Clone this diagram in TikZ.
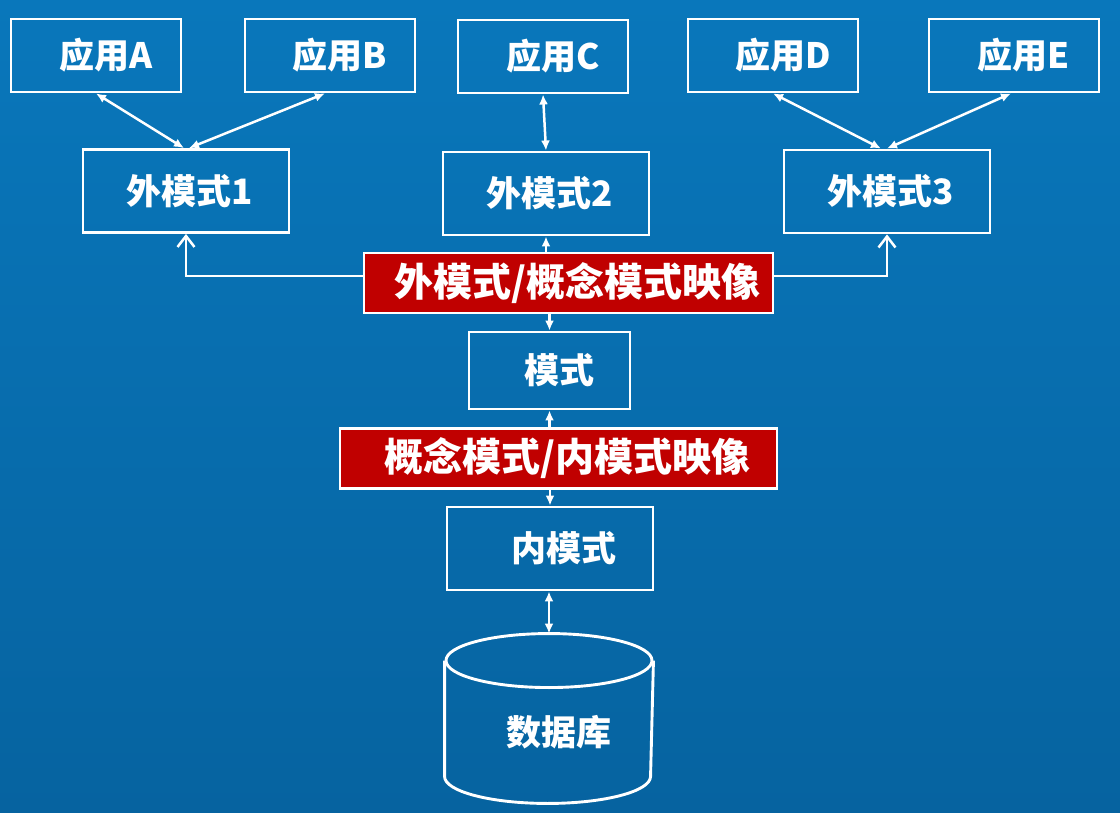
\documentclass[tikz,border=0pt]{standalone}
\usepackage{fontspec}
\setmainfont{Noto Sans CJK SC}
\usepackage{tikz}
\usetikzlibrary{arrows.meta,positioning}
\definecolor{bgtop}{RGB}{9,119,187}
\definecolor{bgbottom}{RGB}{6,99,160}
\definecolor{mapred}{RGB}{192,0,0}

\begin{document}
\begin{tikzpicture}[
    x=1pt, y=1pt,
    on grid,
    >={Latex[length=10pt,width=9pt]},
    box/.style={
		rectangle,
		draw=white,
		line width=2.9pt,
		text=white,
		inner sep=0pt,
		font=\fontsize{35}{38}\selectfont\bfseries
	},
	pad/.style={
		execute at begin node={\hspace*{#1}}
	},
	app/.style={box, minimum width=170pt, minimum height=73pt, pad=20pt},
	ext/.style={box, minimum width=206pt, minimum height=83pt, pad=8pt},
	conc/.style={box, minimum width=161pt, minimum height=77pt, pad=20pt},
	mapping/.style={
		box,
		fill=mapred,
		line width=2.5pt,
		minimum height=60pt,
		pad=18pt,
		font=\fontsize{39}{42}\selectfont\bfseries
	},
	link/.style={draw=white, line width=2.5pt, <->},
	single/.style={draw=white, line width=2.2pt, ->},
	feed/.style={draw=white, line width=2.5pt, -{Straight Barb[length=11pt,width=17pt]}}
  ]
  \fill [top color=bgtop, bottom color=bgbottom] (0,0) rectangle (1120,-813);
  \useasboundingbox (0,0) rectangle (1120,-813);

    % We start by placing the blocks
  \node [mapping, minimum width=409pt] (mapA) at (568.5,-283) {外模式/概念模式映像};

  \node [ext, above=89.5pt of mapA, xshift=-22.5pt] (ext2) {外模式2};
  \node [ext, left=360pt of ext2, yshift=2.5pt] (ext1) {外模式1};
  \node [ext, right=341pt of ext2, yshift=2pt] (ext3) {外模式3};

  \node [app, above=135.5pt of ext1, xshift=-90pt] (appA) {应用A};
  \node [app, above=135.5pt of ext1, xshift=144pt] (appB) {应用B};
  \node [app, above=137pt of ext2, xshift=-3pt] (appC) {应用C};
  \node [app, above=136pt of ext3, xshift=-114pt] (appD) {应用D};
  \node [app, above=136pt of ext3, xshift=127pt] (appE) {应用E};

  \node [conc, below=87.5pt of mapA, xshift=-19pt] (concept) {模式};
  \node [mapping, minimum width=437pt, below=88pt of concept, xshift=9pt] (mapB) {概念模式/内模式映像};
  \node [ext, pad=20pt, below=90pt of mapB, xshift=-8.5pt] (internal) {内模式};

  % the database cylinder
  \node [box, draw=none, minimum width=206pt, minimum height=140pt, pad=20pt, below=183.5pt of internal, xshift=-1pt] (db) {数据库};
  \draw [white, line width=2.9pt] (db.north) ellipse [x radius=103pt, y radius=27pt];
  \draw [white, line width=2.9pt] (db.north west) -- ([yshift=27pt]db.south west)
    arc [start angle=180, end angle=360, x radius=103pt, y radius=27pt] -- (db.north east);
  \coordinate (dbtop) at ([yshift=27pt]db.north);

  % connectors
  \draw [link] (appA.south) -- ([xshift=-2pt]ext1.north);
  \draw [link] ([xshift=-5pt]appB.south) -- ([xshift=3pt]ext1.north);
  \draw [link] (appC.south) -- (ext2.north);
  \draw [link] (appD.south) -- ([xshift=-6pt]ext3.north);
  \draw [link] ([xshift=-3pt]appE.south) -- (ext3.north);

  \draw [feed] ([yshift=7pt]mapA.west) -| (ext1.south);
  \draw [feed] ([yshift=7pt]mapA.east) -| (ext3.south);
  \draw [single] (mapA.north -| ext2.south) -- (ext2.south);
  \draw [single] (mapA.south -| concept.north) -- (concept.north);
  \draw [single] (mapB.north -| concept.south) -- (concept.south);
  \draw [single] (mapB.south -| internal.north) -- (internal.north);
  \draw [link] (internal.south -| dbtop) -- (dbtop);

\end{tikzpicture}
\end{document}
